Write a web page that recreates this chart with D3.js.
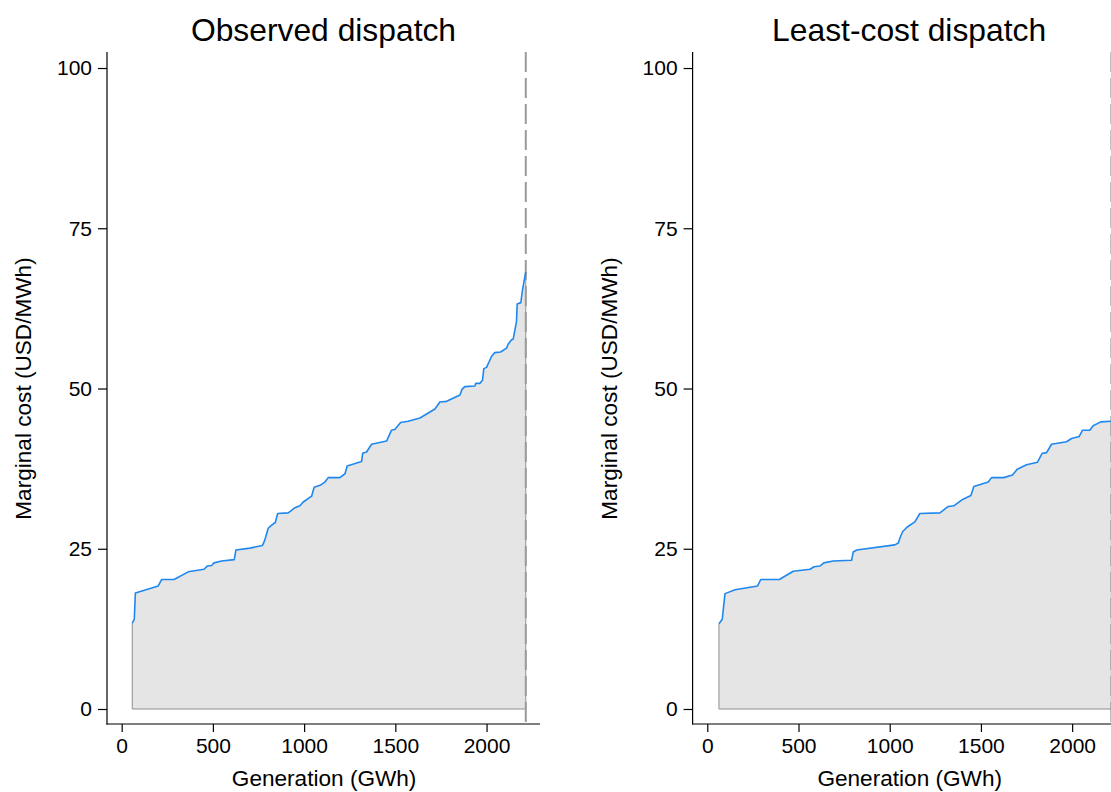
<!DOCTYPE html>
<html>
<head>
<meta charset="utf-8">
<script src="https://cdn.jsdelivr.net/npm/d3@7"></script>
<style>
  html, body { margin: 0; padding: 0; background: #fff; }
  svg { display: block; font-family: "Liberation Sans", Arial, Helvetica, sans-serif; }
</style>
</head>
<body>
<svg id="chart" width="1111" height="792"></svg>
<script>
// Merit-order supply curves: cumulative generation (GWh) vs marginal cost (USD/MWh)
const panelTitles = ["Observed dispatch", "Least-cost dispatch"];

const observedGen  = [58, 69, 75, 200, 219, 287, 365, 451, 469, 493, 506, 548, 617, 626, 703, 771, 781, 789, 803, 822, 842, 855, 913, 950, 977, 995, 1041, 1055, 1087, 1114, 1132, 1196, 1224, 1236, 1315, 1321, 1342, 1370, 1452, 1479, 1497, 1529, 1570, 1635, 1717, 1744, 1781, 1854, 1866, 1881, 1936, 1941, 1963, 1978, 1985, 2000, 2027, 2045, 2077, 2110, 2118, 2137, 2146, 2164, 2168, 2188, 2197, 2215];
const observedCost = [13.4, 14.0, 18.1, 19.2, 20.2, 20.2, 21.4, 21.8, 22.3, 22.4, 22.8, 23.1, 23.3, 24.8, 25.1, 25.5, 26.1, 26.8, 28.2, 28.7, 29.1, 30.5, 30.6, 31.4, 31.7, 32.3, 33.2, 34.6, 34.9, 35.4, 36.1, 36.1, 36.7, 37.9, 38.6, 39.9, 40.1, 41.3, 41.8, 43.5, 43.6, 44.7, 44.9, 45.4, 46.8, 47.9, 48.0, 49.0, 49.9, 50.3, 50.4, 50.8, 50.8, 51.3, 53.1, 53.3, 55.0, 55.6, 55.7, 56.3, 56.9, 57.6, 57.7, 60.4, 63.2, 63.4, 65.4, 68.2];

const leastCostGen  = [64, 82, 97, 152, 276, 293, 395, 471, 563, 585, 617, 639, 690, 791, 800, 819, 1028, 1047, 1055, 1071, 1096, 1138, 1165, 1275, 1321, 1351, 1394, 1445, 1461, 1540, 1558, 1625, 1673, 1699, 1750, 1810, 1836, 1860, 1887, 1969, 1997, 2038, 2057, 2097, 2115, 2157, 2215];
const leastCostCost = [13.3, 14.0, 18.0, 18.6, 19.2, 20.2, 20.2, 21.5, 21.8, 22.2, 22.3, 22.8, 23.1, 23.2, 24.5, 24.8, 25.6, 25.9, 26.6, 27.7, 28.4, 29.2, 30.5, 30.6, 31.6, 31.7, 32.6, 33.3, 34.7, 35.4, 36.1, 36.1, 36.5, 37.4, 38.1, 38.5, 39.9, 40.0, 41.3, 41.7, 42.2, 42.5, 43.5, 43.5, 44.2, 44.8, 44.9];

const demandGWh = 2215;               // total demand, marked by the dashed line
const xTicks = [0, 500, 1000, 1500, 2000];
const yTicks = [0, 25, 50, 75, 100];
const xLabel = "Generation (GWh)";
const yLabel = "Marginal cost (USD/MWh)";

const svg = d3.select("#chart");

// panel frame (plot region of one panel) and horizontal spacing between panels
const frame = { left: 107, right: 540, top: 52, bottom: 724 };
const panelShift = 585.6;
const xDomain = [-80.5, 2293];
const yDomain = [-2.34, 102.5];

const blue = "#1f88ee";
const areaFill = "#e5e5e5";
const edgeGrey = "#8f8f8f";

function drawPanel(idx, gen, cost) {
  const g = svg.append("g").attr("transform", `translate(${idx * panelShift},0)`);
  const x = d3.scaleLinear().domain(xDomain).range([frame.left, frame.right]);
  const y = d3.scaleLinear().domain(yDomain).range([frame.bottom, frame.top]);
  const pts = gen.map((d, i) => ({ g: d, c: cost[i] }));

  // shaded area under the supply curve
  const area = d3.area().x(d => x(d.g)).y0(y(0)).y1(d => y(d.c));
  g.append("path").datum(pts)
    .attr("d", area)
    .attr("fill", areaFill)
    .attr("stroke", "none");

  // grey outline along the left edge and the base of the area
  const first = pts[0], last = pts[pts.length - 1];
  g.append("path")
    .attr("d", d3.line()([[x(first.g), y(first.c)], [x(first.g), y(0)], [x(last.g), y(0)], [x(last.g), y(last.c)]]))
    .attr("fill", "none")
    .attr("stroke", edgeGrey)
    .attr("stroke-width", 1);

  // dashed demand line
  g.append("line")
    .attr("x1", x(demandGWh)).attr("x2", x(demandGWh))
    .attr("y1", frame.top).attr("y2", frame.bottom)
    .attr("stroke", "#9a9a9a")
    .attr("stroke-width", 2)
    .attr("stroke-dasharray", "20,6");

  // supply curve
  g.append("path").datum(pts)
    .attr("d", d3.line().x(d => x(d.g)).y(d => y(d.c)))
    .attr("fill", "none")
    .attr("stroke", blue)
    .attr("stroke-width", 1.6)
    .attr("stroke-linejoin", "round");

  // axes
  const yAxis = d3.axisLeft(y).tickValues(yTicks).tickSize(9).tickPadding(6).tickFormat(d3.format("d"));
  const ya = g.append("g").attr("transform", `translate(${frame.left},0)`).call(yAxis);
  const xAxis = d3.axisBottom(x).tickValues(xTicks).tickSize(8).tickPadding(6).tickFormat(d3.format("d"));
  const xa = g.append("g").attr("transform", `translate(0,${frame.bottom})`).call(xAxis);
  [ya, xa].forEach(a => {
    a.select(".domain").remove();
    a.selectAll(".tick line").attr("stroke", "#000").attr("stroke-width", 1.2);
    a.selectAll(".tick text").attr("fill", "#000").style("font-size", "21px")
      .style("font-family", "'Liberation Sans', Arial, sans-serif");
  });

  // axis lines
  g.append("line")
    .attr("x1", frame.left).attr("x2", frame.left)
    .attr("y1", frame.top).attr("y2", frame.bottom + 0.6)
    .attr("stroke", "#000").attr("stroke-width", 1.2);
  g.append("line")
    .attr("x1", frame.left - 0.6).attr("x2", frame.right)
    .attr("y1", frame.bottom).attr("y2", frame.bottom)
    .attr("stroke", "#000").attr("stroke-width", 1.2);

  // axis titles
  g.append("text")
    .attr("x", (x(0) + x(2000)) / 2 + 20)
    .attr("y", 786)
    .attr("text-anchor", "middle")
    .style("font-size", "22.6px")
    .text(xLabel);
  g.append("text")
    .attr("transform", `translate(31,${(y(0) + y(100)) / 2}) rotate(-90)`)
    .attr("text-anchor", "middle")
    .style("font-size", "22.6px")
    .text(yLabel);

  // panel title
  g.append("text")
    .attr("x", 323.5)
    .attr("y", 41)
    .attr("text-anchor", "middle")
    .style("font-size", "31.8px")
    .text(panelTitles[idx]);
}

drawPanel(0, observedGen, observedCost);
drawPanel(1, leastCostGen, leastCostCost);
</script>
</body>
</html>
